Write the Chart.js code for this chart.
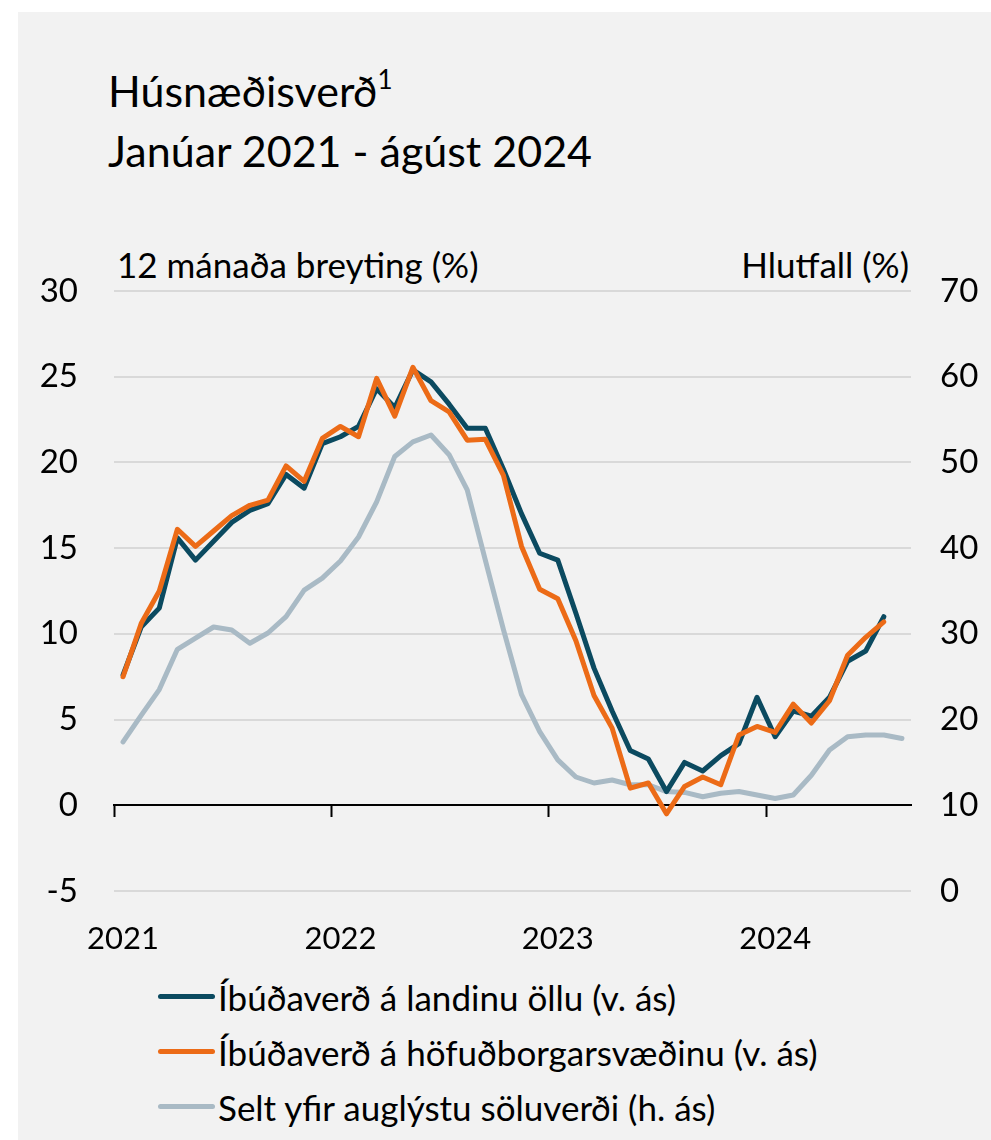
<!DOCTYPE html>
<html>
<head>
<meta charset="utf-8">
<script src="https://cdn.jsdelivr.net/npm/chart.js@4.4.1/dist/chart.umd.min.js"></script>
<style>
  html, body { margin:0; padding:0; background:#ffffff; width:991px; height:1140px; overflow:hidden; }
  body { font-family: Lato, "Open Sans", sans-serif; color:#000; }
  #panel { position:absolute; left:18px; top:12px; width:973px; height:1128px; background:#f2f2f2; }
  .txt { position:absolute; white-space:nowrap; color:#000; }
  #title { left:108px; top:64px; font-size:43px; line-height:54px; }
  #title sup { font-size:26px; vertical-align:0; position:relative; top:-18px; }
  #ytitleL { left:117px; top:243px; font-size:35px; line-height:42px; }
  #ytitleR { right:82px; top:243px; font-size:35px; line-height:42px; }
  #chartBox { position:absolute; left:0; top:230px; width:991px; height:731px; }
  #legend { position:absolute; left:158px; top:969px; font-size:35px; }
  .li { display:flex; align-items:center; height:55px; }
  .sw { width:57px; height:5px; border-radius:3px; margin-right:3px; }
</style>
</head>
<body>
<div id="panel"></div>
<div id="title" class="txt">Húsnæðisverð<sup>1</sup><br>Janúar 2021 - ágúst 2024</div>
<div id="ytitleL" class="txt">12 mánaða breyting (%)</div>
<div id="ytitleR" class="txt">Hlutfall (%)</div>
<div id="chartBox"><canvas id="c" width="991" height="731"></canvas></div>
<div id="legend" class="txt"></div>
<script>
// ---- Data (Jan 2021 – Aug 2024, monthly) ----
const categories = [
  '2021-01','2021-02','2021-03','2021-04','2021-05','2021-06','2021-07','2021-08','2021-09','2021-10','2021-11','2021-12',
  '2022-01','2022-02','2022-03','2022-04','2022-05','2022-06','2022-07','2022-08','2022-09','2022-10','2022-11','2022-12',
  '2023-01','2023-02','2023-03','2023-04','2023-05','2023-06','2023-07','2023-08','2023-09','2023-10','2023-11','2023-12',
  '2024-01','2024-02','2024-03','2024-04','2024-05','2024-06','2024-07','2024-08'
];
// Íbúðaverð á landinu öllu (v. ás), 12-month change %
const landidOllu = [7.6,10.4,11.5,15.6,14.3,15.4,16.5,17.2,17.6,19.3,18.5,21.1,
  21.5,22.1,24.3,23.2,25.4,24.7,23.4,22.0,22.0,19.6,17.0,14.7,
  14.3,11.2,8.0,5.5,3.2,2.7,0.8,2.5,2.0,2.9,3.6,6.3,
  4.0,5.5,5.2,6.3,8.4,9.0,11.0,null];
// Íbúðaverð á höfuðborgarsvæðinu (v. ás), 12-month change %
const hofudborg = [7.5,10.6,12.5,16.1,15.1,16.0,16.9,17.5,17.8,19.8,18.9,21.4,
  22.1,21.5,24.9,22.7,25.55,23.6,22.95,21.3,21.35,19.25,15.1,12.6,
  12.05,9.6,6.4,4.5,1.0,1.3,-0.5,1.1,1.65,1.2,4.1,4.6,
  4.25,5.9,4.8,6.1,8.75,9.8,10.7,null];
// Selt yfir auglýstu söluverði (h. ás), share %
const seltYfir = [17.4,20.5,23.5,28.2,29.5,30.8,30.45,28.9,30.1,32.0,35.1,36.5,
  38.5,41.3,45.4,50.7,52.4,53.2,50.9,46.8,38.6,30.5,22.9,18.6,
  15.3,13.3,12.6,12.95,12.4,12.4,11.6,11.5,11.0,11.4,11.6,11.2,
  10.8,11.2,13.5,16.45,18.0,18.2,18.2,17.8];
const seriesNames = ['Íbúðaverð á landinu öllu (v. ás)','Íbúðaverð á höfuðborgarsvæðinu (v. ás)','Selt yfir auglýstu söluverði (h. ás)'];
const seriesColors = ['#0b4a60','#ec6b17','#a9bac5'];
const leftTicks = {min:-5, max:30, step:5};
const rightTicks = {min:0, max:70, step:10};

const FONT = 'Lato';
const datasets = [
  {label:seriesNames[0], data:landidOllu, borderColor:seriesColors[0], yAxisID:'yL', order:2},
  {label:seriesNames[1], data:hofudborg, borderColor:seriesColors[1], yAxisID:'yL', order:1},
  {label:seriesNames[2], data:seltYfir, borderColor:seriesColors[2], yAxisID:'yR', order:3}
].map(d => Object.assign(d, {xAxisID:'x', borderWidth:5, pointRadius:0, tension:0,
  borderCapStyle:'round', borderJoinStyle:'round', fill:false, spanGaps:false}));

new Chart(document.getElementById('c'), {
  type:'line',
  data:{labels:categories, datasets:datasets},
  options:{
    responsive:false, animation:false, devicePixelRatio:1,
    layout:{padding:{top:61, left:0, right:0, bottom:0}},
    plugins:{legend:{display:false}, tooltip:{enabled:false}, title:{display:false}},
    scales:{
      x:{
        type:'category', position:{yL:0}, offset:true,
        grid:{offset:true, drawOnChartArea:false, drawTicks:true, tickLength:11, tickWidth:2,
          tickColor:(ctx)=> (ctx.index !== undefined && ctx.index % 12 === 0) ? '#000' : 'rgba(0,0,0,0)'},
        border:{display:true, color:'#000', width:2},
        ticks:{display:false, autoSkip:false}
      },
      xLab:{
        type:'category', position:'bottom', offset:true,
        grid:{display:false, drawTicks:false},
        border:{display:false},
        ticks:{autoSkip:false, maxRotation:0, padding:29, color:'#000', font:{family:FONT, size:31},
          callback:function(v, i){ return i % 12 === 0 ? this.getLabelForValue(v).slice(0,4) : null; }},
        afterFit:(s)=>{ s.height = 70; }
      },
      yL:{
        type:'linear', position:'left', min:leftTicks.min, max:leftTicks.max,
        grid:{drawTicks:false, lineWidth:2, color:(ctx)=> (ctx.tick && ctx.tick.value === 0) ? 'rgba(0,0,0,0)' : '#d9d9d9'},
        border:{display:false},
        ticks:{stepSize:leftTicks.step, padding:36, color:'#000', font:{family:FONT, size:33},
          callback:(v)=> String(v)},
        afterFit:(s)=>{ s.width = 114; }
      },
      yR:{
        type:'linear', position:'right', min:rightTicks.min, max:rightTicks.max,
        grid:{display:false, drawTicks:false},
        border:{display:false},
        ticks:{stepSize:rightTicks.step, padding:29, color:'#000', font:{family:FONT, size:33},
          callback:(v)=> String(v)},
        afterFit:(s)=>{ s.width = 80; }
      }
    }
  }
});

// HTML legend built from the series names/colours
const lg = document.getElementById('legend');
seriesNames.forEach((n, i) => {
  const row = document.createElement('div'); row.className = 'li';
  const sw = document.createElement('span'); sw.className = 'sw'; sw.style.background = seriesColors[i];
  const tx = document.createElement('span'); tx.textContent = n;
  row.appendChild(sw); row.appendChild(tx); lg.appendChild(row);
});
</script>
</body>
</html>
